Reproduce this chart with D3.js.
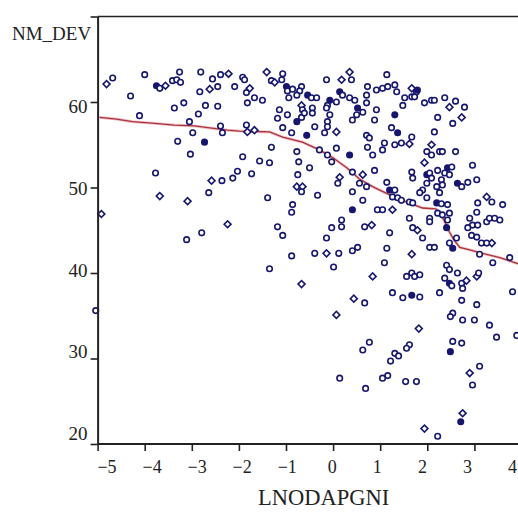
<!DOCTYPE html>
<html>
<head>
<meta charset="utf-8">
<script src="https://cdn.jsdelivr.net/npm/d3@7"></script>
<style>
body { margin: 0; background: #fff; }
svg text { font-family: "Liberation Serif", "Times New Roman", serif; fill: #222; }
</style>
</head>
<body>
<div id="chart"></div>
<script>
// scatter: LNODAPGNI vs NM_DEV, c = open circle, d = open diamond, f = filled circle
const ptX = [
    -4.81, -4.68, -4.00, -4.30, -3.26, -3.75, -3.68, -3.56, -3.41, -3.32, -3.24, -2.81, -2.56, -2.39, -2.22,
    -2.83, -2.62, -2.45, -2.09, -3.37, -3.17, -2.71, -2.45, -2.86, -4.11, -3.05, -2.39, -2.35, -2.98, -3.30,
    -2.73, -3.03, -3.77, -2.58, -2.36, -2.13, -2.03, -3.68, -3.09, -2.64, -4.92, -2.24, -2.79, -3.11, -5.04,
    -1.92, -1.88, -1.41, -1.31, -1.24, -1.07, -1.09, -0.99, -0.97, -0.86, -0.67, -0.71, -1.84, -1.77,
    -1.67, -1.82, -1.50, -0.94, -0.77, -0.54, -0.46, -0.35, -0.14, 0.18, 0.35, 0.39, 0.14, 0.20, -0.07,
    0.07, 0.35, 0.46, 0.73, 0.71, 0.92, 0.71, 0.52, 0.63, 0.50, 0.41, 0.92, 0.88, -0.12, -0.14, -0.67,
    -0.65, -0.44, -0.44, -1.14, -0.97, -1.18, -0.77, -0.67, -0.61, -0.07, -0.12, -0.12, 0.07, -0.39, -0.18,
    -1.84, -1.82, -1.67, -1.07, -0.88, -0.56, 0.71, 0.77, -1.31, -0.77, -0.29, 0.07, 0.35, 0.73, 0.84,
    -0.12, -0.03, -1.92, -1.56, -1.35, -0.73, -0.50, -1.73, -0.75, 0.41, 0.63, 0.88, 0.14, 0.10, 0.56,
    0.71, -0.77, -0.65, -0.67, -0.33, 0.41, -1.39, 0.63, -0.86, -0.88, 0.41, 0.94, -1.18, -1.07, 0.18,
    0.18, -0.03, 0.67, 0.82, -0.14, 0.52,
    1.14, 1.05, 1.16, 1.31, 1.35, 1.67, 1.77, 1.79, 1.52, 1.67, 1.73, 1.48, 1.94, 2.09, 2.15,
    2.37, 2.60, 2.79, 2.47, 1.31, 2.22, 2.73, 2.54, 1.24, 1.37, 2.15, 1.67, 1.09, 1.05, 1.31,
    1.45, 1.62, 2.09, 1.99, 2.09, 2.26, 2.32, 2.60, 1.94, 2.96, 1.67, 1.69, 1.99, 2.05, 2.09,
    2.22, 2.43, 2.52, 2.37, 2.47, 2.30, 2.32, 2.20, 2.64, 2.73, 2.86, 3.05, 1.99, 1.90, 1.84,
    1.99, 2.26, 1.14, 1.20, 1.31, 1.26, 1.37, 1.45, 1.62, 1.69, 2.20, 2.30, 2.43, 1.05, 1.26,
    2.22, 2.32, 2.47, 2.43, 2.41, 1.62, 2.05, 2.05, 1.69, 1.79, 1.90, 1.20, 3.07, 3.05, 3.26,
    3.37, 3.60, 2.90, 2.96, 2.86, 3.07, 3.26, 3.32, 3.43, 3.54, 2.94, 3.05, 3.15, 3.37, 3.26,
    2.47, 2.62, 2.54, 2.05, 2.15, 1.14,
    1.67, 1.09, 1.56, 1.67, 1.73, 1.84, 2.41, 2.47, 2.64, 2.37, 2.47, 2.73, 2.83, 2.52, 2.75,
    3.05, 3.09, 3.11, 3.39, 3.75, 3.81, 1.26, 1.48, 1.67, 1.84, 2.26, 2.73, 3.05, 2.54, 2.49,
    2.75, 3.00, 3.32, 3.47, 3.90, 1.82, 2.54, 2.73, 2.49, 1.62, 1.56, 1.31, 1.39, 1.22, 1.16,
    1.05, 1.54, 1.77, 3.11, 2.90, 2.96, 2.75, 2.71, 1.94, 2.22,
    -1.35, -0.88, -0.39, -0.14, 0.12, 0.41, 0.01, -0.67, 0.84, 0.44, 0.67, 0.07, 0.77, 0.63, 0.14, 0.69
];
const ptY = [
    62.1, 62.8, 63.2, 60.7, 63.5, 61.9, 61.6, 61.9, 62.5, 62.6, 62.3, 63.5, 62.7, 63.2, 63.3,
    61.2, 61.5, 61.8, 61.8, 59.3, 59.9, 59.6, 59.5, 58.6, 58.4, 57.7, 57.2, 56.4, 56.4, 55.4,
    55.3, 53.9, 51.7, 50.8, 50.8, 51.1, 51.9, 49.0, 48.4, 49.4, 46.9, 45.7, 44.7, 43.9, 35.6,
    62.9, 62.6, 63.5, 62.5, 62.3, 63.3, 62.6, 61.8, 61.3, 61.5, 61.8, 61.3, 61.1, 61.6,
    60.5, 59.9, 60.2, 60.5, 60.8, 60.8, 60.5, 60.5, 62.6, 62.6, 63.5, 62.6, 61.2, 60.8, 60.2,
    60.0, 60.5, 60.2, 61.8, 60.8, 61.4, 59.9, 59.3, 58.8, 58.5, 57.9, 59.1, 57.9, 59.6, 59.3, 59.6,
    59.1, 59.3, 58.7, 59.1, 58.5, 58.1, 57.7, 58.2, 58.7, 58.5, 57.7, 57.1, 56.5, 57.1, 56.4,
    57.3, 56.5, 56.7, 57.0, 56.4, 56.1, 56.1, 55.8, 54.7, 54.2, 54.4, 54.6, 53.8, 54.7, 53.8,
    53.8, 53.0, 53.6, 53.1, 52.9, 53.0, 52.3, 51.6, 51.5, 51.8, 51.5, 52.0, 51.2, 50.5, 50.5,
    50.1, 50.1, 50.1, 49.5, 49.1, 49.5, 48.8, 48.5, 48.0, 47.1, 47.4, 47.4, 45.4, 44.4, 46.2,
    45.4, 45.3, 45.4, 45.6, 44.1, 43.0,
    63.2, 61.6, 61.8, 62.0, 61.2, 61.6, 61.2, 61.4, 60.5, 60.6, 60.6, 59.6, 59.9, 60.2, 60.2,
    60.5, 60.1, 59.4, 59.4, 58.5, 58.2, 58.2, 57.5, 57.0, 56.4, 56.5, 55.9, 55.2, 54.4, 55.0,
    55.2, 55.1, 55.0, 54.2, 53.8, 54.2, 54.2, 54.2, 52.9, 52.6, 51.8, 51.1, 51.5, 51.7, 51.1,
    52.0, 52.3, 52.4, 51.7, 51.5, 50.9, 50.3, 50.1, 50.5, 50.1, 50.6, 50.9, 50.5, 49.7, 49.4,
    48.8, 49.4, 50.6, 49.7, 49.7, 48.9, 48.8, 48.5, 48.3, 48.2, 48.2, 48.1, 48.0, 47.4, 47.4,
    47.0, 46.8, 47.0, 46.2, 45.3, 46.4, 46.4, 46.0, 45.3, 45.0, 44.1, 44.7, 48.2, 47.1, 48.9,
    48.3, 48.0, 46.4, 45.6, 45.3, 45.6, 46.0, 46.4, 46.4, 46.2, 44.4, 44.2, 43.5, 43.5, 43.5,
    43.5, 44.1, 42.9, 43.0, 43.0, 42.9,
    42.2, 41.2, 39.6, 40.0, 39.6, 39.8, 40.9, 40.4, 40.0, 39.4, 38.8, 38.8, 39.1, 38.5, 38.2,
    39.6, 40.0, 42.2, 41.2, 41.8, 37.8, 37.7, 37.1, 37.4, 37.2, 37.7, 36.8, 36.3, 35.3, 34.9,
    34.5, 34.5, 33.9, 32.5, 32.7, 33.5, 32.0, 31.8, 30.8, 31.6, 31.2, 30.6, 30.3, 29.7, 28.0,
    27.7, 27.3, 27.3, 29.1, 28.3, 26.9, 23.6, 22.6, 21.8, 20.9,
    40.5, 42.0, 42.3, 42.3, 42.3, 42.6, 40.7, 38.7, 39.6, 37.0, 36.5, 35.1, 31.9, 31.0, 27.7, 26.5
];
const ptShape = [
    'd','c','c','c','c','f','c','d','c','c','c','c','c','c','d',
    'c','d','c','c','c','c','c','c','c','c','c','c','c','c','c',
    'f','c','c','d','c','c','c','d','d','c','d','d','c','c','c',
    'c','c','d','c','d','c','c','f','c','c','c','c','c','d',
    'c','c','c','c','c','f','c','c','c','d','d','c','f','c','f',
    'c','c','c','c','c','c','c','f','c','c','c','c','c','c','c','d',
    'c','c','c','c','c','c','f','c','c','c','c','c','d','c','c',
    'c','d','d','c','c','f','c','c','c','c','c','c','f','c','c',
    'c','c','c','c','c','c','c','c','c','c','d','c','d','c','c',
    'c','d','d','c','c','c','c','c','c','c','f','c','c','c','c',
    'c','c','c','d','c','c',
    'c','c','c','c','c','d','c','f','c','c','c','c','c','c','c',
    'c','c','c','d','f','c','d','c','c','f','c','c','c','c','c',
    'c','d','d','c','c','c','c','c','d','c','c','c','f','c','c',
    'c','f','c','c','c','c','c','c','f','c','c','c','c','c','c',
    'c','c','c','f','c','c','c','c','c','c','f','c','c','c','d',
    'c','c','c','c','f','c','c','c','c','d','c','c','c','c','d',
    'c','c','c','c','c','c','c','c','c','c','c','c','c','d','c',
    'c','c','f','c','c','c',
    'd','c','c','c','c','c','c','c','c','c','f','c','d','c','c',
    'd','c','c','c','c','c','c','c','f','c','c','c','c','c','c',
    'c','c','c','c','c','d','c','c','f','c','c','c','c','c','c',
    'c','c','c','c','d','c','d','f','d','c',
    'c','c','c','d','c','c','c','d','d','d','c','d','c','c','c','c'
];

// smoothed fit line
const curveX = [-4.96, -4.60, -4.26, -3.79, -3.37, -2.94, -2.66, -2.24, -1.99, -1.35, -1.07, -0.65, -0.29,
    -0.01, 0.29, 0.56, 0.84, 0.99, 1.26, 1.56, 1.90, 2.18, 2.28, 2.37, 2.45, 2.56, 2.69, 2.90, 3.17, 3.54, 3.92, 4.39];
const curveY = [58.2, 58.0, 57.7, 57.5, 57.3, 57.2, 57.0, 56.7, 56.6, 56.5, 55.9, 55.3, 54.4,
    53.5, 52.3, 51.0, 50.1, 49.7, 49.0, 48.3, 47.6, 47.5, 47.0, 46.0, 45.0, 43.9, 43.0, 42.7, 42.3, 41.8, 41.1, 40.6];

const xTicks = [-5, -4, -3, -2, -1, 0, 1, 2, 3, 4];
const yTicks = [20, 30, 40, 50, 60, 70];
const yLabelTicks = [20, 30, 40, 50, 60];

let width = 518;
let height = 512;
let ink = '#16166e';

let svg = d3.select('#chart')
    .append('svg')
    .attr('width', width)
    .attr('height', height);

let x = d3.scaleLinear().domain([-5, 4]).range([97.6, 521.5]);
let y = d3.scaleLinear().domain([20, 70]).range([444, 16.5]);
// the printed tick labels drift a little from their tick marks
let xLab = d3.scaleLinear().domain([-5, 4]).range([106.5, 512]);
let yLab = d3.scaleLinear().domain([20, 60]).range([433.5, 106.5]);

// top frame line
svg.append('line')
    .attr('x1', x(-5)).attr('x2', width)
    .attr('y1', y(70)).attr('y2', y(70))
    .attr('stroke', '#222').attr('stroke-width', 1.6);

let line = d3.line()
    .x(function(d) { return x(d[0]); })
    .y(function(d) { return y(d[1]); });

svg.append('path')
    .datum(d3.zip(curveX, curveY))
    .attr('d', line)
    .attr('fill', 'none')
    .attr('stroke', '#f2c4c8')
    .attr('stroke-width', 3);

svg.append('path')
    .datum(d3.zip(curveX, curveY))
    .attr('d', line)
    .attr('fill', 'none')
    .attr('stroke', '#a8323e')
    .attr('stroke-width', 1.3);

let points = d3.range(ptX.length).map(function(i) {
    return {x: ptX[i], y: ptY[i], s: ptShape[i]};
});

let diamond = d3.symbol().type(d3.symbolSquare).size(24);
let circle = d3.symbol().type(d3.symbolCircle).size(24);

svg.append('g')
    .selectAll('.pt')
    .data(points)
    .enter()
    .append('path')
    .attr('class', 'pt')
    .attr('d', function(d) { return d.s === 'd' ? diamond() : circle(); })
    .attr('transform', function(d) {
        return 'translate(' + x(d.x) + ',' + y(d.y) + ')' + (d.s === 'd' ? ' rotate(45)' : '');
    })
    .attr('fill', function(d) { return d.s === 'f' ? ink : '#fff'; })
    .attr('stroke', ink)
    .attr('stroke-width', 1.6);

// axes: tick marks
let xAxis = svg.append('g')
    .attr('transform', 'translate(0,' + y(20) + ')')
    .call(d3.axisBottom(x).tickValues(xTicks).tickSize(7).tickSizeOuter(0).tickFormat(''));
let yAxis = svg.append('g')
    .attr('transform', 'translate(' + x(-5) + ',0)')
    .call(d3.axisLeft(y).tickValues(yTicks).tickSize(7).tickSizeOuter(0).tickFormat(''));

xAxis.select('.domain').attr('stroke', '#222').attr('stroke-width', 2).attr('d', 'M' + x(-5) + ',0H' + width);
yAxis.select('.domain').attr('stroke', '#222').attr('stroke-width', 2);
svg.selectAll('.tick line').attr('stroke', '#222').attr('stroke-width', 1.6);

// axes: tick labels
svg.append('g')
    .attr('transform', 'translate(0,' + y(20) + ')')
    .call(d3.axisBottom(xLab).tickValues(xTicks).tickSize(0).tickPadding(16))
    .call(function(g) { g.select('.domain').remove(); })
    .selectAll('text')
    .attr('font-size', 18)
    .style('font-family', '"Liberation Serif", serif')
    .attr('fill', '#222');

svg.append('g')
    .attr('transform', 'translate(' + x(-5) + ',0)')
    .call(d3.axisLeft(yLab).tickValues(yLabelTicks).tickSize(0).tickPadding(10))
    .call(function(g) { g.select('.domain').remove(); })
    .selectAll('text')
    .attr('font-size', 19)
    .style('font-family', '"Liberation Serif", serif')
    .attr('fill', '#222');

svg.append('text')
    .attr('x', 12)
    .attr('y', 40)
    .attr('font-size', 19)
    .text('NM_DEV');

svg.append('text')
    .attr('x', 258)
    .attr('y', 505)
    .attr('font-size', 22.5)
    .text('LNODAPGNI');
</script>
</body>
</html>
